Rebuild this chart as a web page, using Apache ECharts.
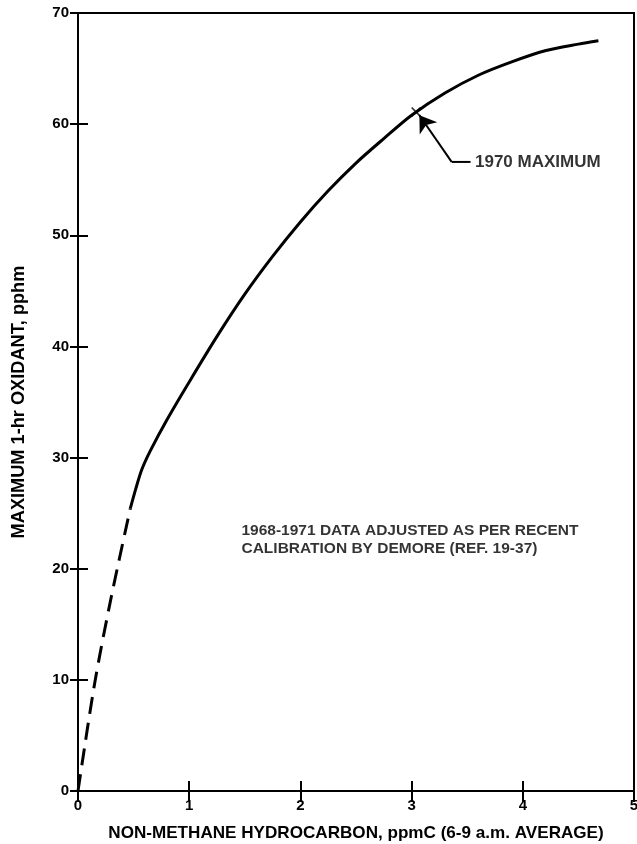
<!DOCTYPE html>
<html><head><meta charset="utf-8">
<script src="https://cdn.jsdelivr.net/npm/echarts@6/dist/echarts.min.js"></script>
<style>html,body{margin:0;padding:0;background:#fff}#c{width:637px;height:844px}</style>
</head><body><div id="c"></div>
<script>
// Data
const solidX = [0.47, 0.52, 0.573, 0.65, 0.8, 1.0, 1.25, 1.5, 1.75, 2.0, 2.25, 2.5, 2.75, 3.0, 3.3, 3.6, 3.9, 4.2, 4.5, 4.68];
const solidY = [25.4, 27.2, 28.9, 30.6, 33.4, 36.8, 40.9, 44.7, 48.1, 51.2, 54.0, 56.5, 58.7, 60.8, 62.8, 64.4, 65.6, 66.6, 67.2, 67.5];
const dashedX = [0, 0.15, 0.30, 0.47];
const dashedY = [0, 9.7, 17.5, 25.4];
const markX = [3.04];
const markY = [61.1];
const leaderX = [3.53, 3.36, 3.07];
const leaderY = [56.6, 56.6, 60.8];
const xTicks = [0, 1, 2, 3, 4, 5];
const yTicks = [0, 10, 20, 30, 40, 50, 60, 70];
const xName = 'NON-METHANE HYDROCARBON, ppmC (6-9 a.m. AVERAGE)';
const yName = 'MAXIMUM 1-hr OXIDANT, pphm';
const maxLabel = '1970 MAXIMUM';
const noteText = '1968-1971 DATA ADJUSTED AS PER RECENT\nCALIBRATION BY DEMORE (REF. 19-37)';
const noteAt = [1.47, 22.6];
const maxLabelAt = [3.57, 56.6];

const FONT = 'Liberation Sans';
const zip = (a, b) => a.map((v, i) => [v, b[i]]);
const txt = (size) => ({ color: '#000', fontFamily: FONT, fontWeight: 'bold', fontSize: size });

const chart = echarts.init(document.getElementById('c'));
chart.setOption({
  animation: false,
  backgroundColor: '#fff',
  grid: { left: 78, right: 3, top: 13, bottom: 53, show: true, borderColor: '#000', borderWidth: 2,
          containLabel: false, outerBoundsMode: 'none' },
  xAxis: [
    { type: 'value', min: xTicks[0], max: xTicks[xTicks.length - 1], interval: 1,
      name: xName, nameLocation: 'middle', nameGap: 34, nameTextStyle: txt(17.1),
      axisLine: { lineStyle: { color: '#000', width: 2 } },
      axisTick: { inside: true, length: 10, lineStyle: { color: '#000', width: 2 } },
      axisLabel: Object.assign({ margin: 7 }, txt(15)),
      splitLine: { show: false } },
    { type: 'value', position: 'top', min: xTicks[0], max: xTicks[xTicks.length - 1], interval: 1,
      axisLine: { lineStyle: { color: '#000', width: 2 } },
      axisTick: { inside: true, length: 11, lineStyle: { color: '#000', width: 2 } },
      axisLabel: { show: false }, splitLine: { show: false } }
  ],
  yAxis: [
    { type: 'value', min: yTicks[0], max: yTicks[yTicks.length - 1], interval: 10,
      name: yName, nameLocation: 'middle', nameGap: 50, nameRotate: 90, nameTextStyle: txt(18.2),
      axisLine: { lineStyle: { color: '#000', width: 2 } },
      axisTick: { inside: true, length: 10, lineStyle: { color: '#000', width: 2 } },
      axisLabel: Object.assign({ margin: 9 }, txt(15)),
      splitLine: { show: false } },
    { type: 'value', position: 'right', min: yTicks[0], max: yTicks[yTicks.length - 1], interval: 10,
      axisLine: { lineStyle: { color: '#000', width: 2 } },
      axisTick: { inside: true, length: 8, lineStyle: { color: '#000', width: 2 } },
      axisLabel: { show: false }, splitLine: { show: false } }
  ],
  series: [
    { type: 'line', data: zip(solidX, solidY), smooth: 0.3, showSymbol: false, symbol: 'none',
      lineStyle: { color: '#000', width: 3 } },
    { type: 'line', data: zip(dashedX, dashedY), smooth: 0.3, showSymbol: false, symbol: 'none',
      lineStyle: { color: '#000', width: 3, type: [17, 9] } },
    { type: 'line', data: zip(leaderX.slice(0, 2), leaderY.slice(0, 2)), showSymbol: false, symbol: 'none',
      color: '#000', lineStyle: { color: '#000', width: 2 },
      markLine: { silent: true, symbol: ['none', 'arrow'], symbolSize: 16,
        itemStyle: { color: '#000' },
        lineStyle: { color: '#000', width: 2, type: 'solid' }, label: { show: false },
        data: [[{ coord: [leaderX[1], leaderY[1]] }, { coord: [leaderX[2], leaderY[2]] }]] } },
    { type: 'scatter', data: zip(markX, markY),
      symbol: 'path://M0,1.2 L1.2,0 L10,8.8 L8.8,10 Z M8.8,0 L10,1.2 L1.2,10 L0,8.8 Z',
      symbolSize: 10, itemStyle: { color: '#000' } },
    { type: 'scatter', data: [maxLabelAt], symbolSize: 0,
      label: Object.assign({ show: true, position: 'right', distance: 0, formatter: maxLabel }, txt(17)) },
    { type: 'scatter', data: [noteAt], symbolSize: 0,
      label: Object.assign({ show: true, position: 'right', distance: 0, formatter: noteText, lineHeight: 18.5 }, txt(15.5)) }
  ]
});
</script>
</body></html>
